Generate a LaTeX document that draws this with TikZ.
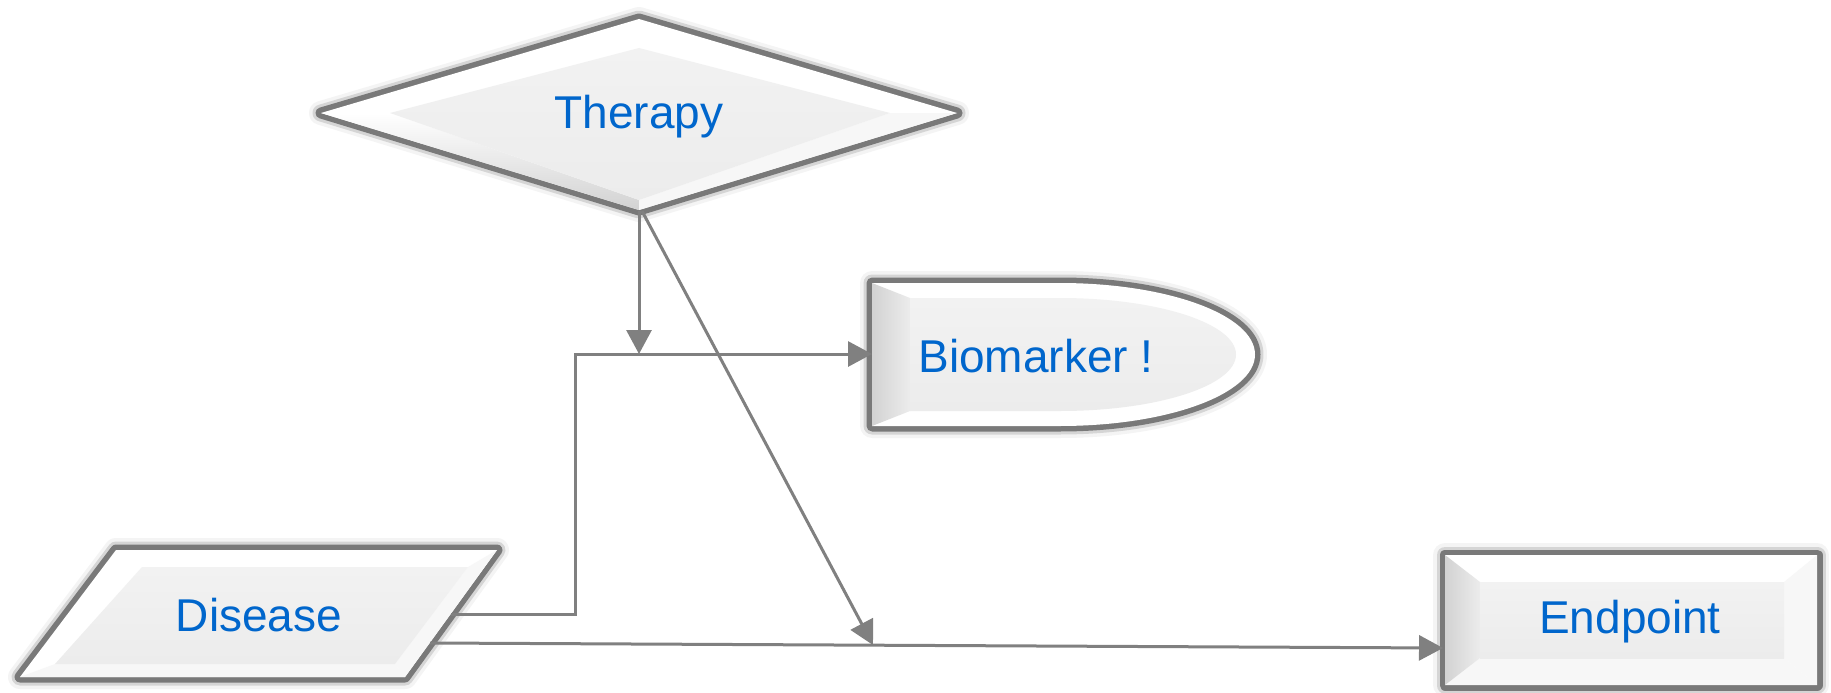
\documentclass[tikz,border=0pt]{standalone}
\usepackage{fontspec}
\setmainfont{Liberation Sans}
\usetikzlibrary{arrows.meta}
\definecolor{txt}{RGB}{0,102,204}
\definecolor{conn}{RGB}{128,128,128}
\definecolor{shd}{RGB}{105,105,105}
\definecolor{face}{RGB}{236,236,236}
\definecolor{facetop}{RGB}{242,242,242}
\definecolor{darkfacet}{RGB}{210,210,210}
\definecolor{lightfacet}{RGB}{247,247,247}
\tikzset{
  lbl/.style={text=txt, font=\fontsize{46}{55}\selectfont, inner sep=0pt},
  conline/.style={draw=conn, line width=3pt},
  arr/.style={conline, -{Triangle[length=24pt,width=25pt]}},
  shA/.style={draw=shd, line width=24pt, opacity=0.07, line join=round},
  shB/.style={draw=shd, line width=17pt, opacity=0.22, line join=round},
  shC/.style={draw=shd, line width=11pt, opacity=0.85, line join=round},
}
\newcommand\bevelshadow[1]{\draw[shA] #1; \draw[shB] #1; \draw[shC] #1;}
\begin{document}
\begin{tikzpicture}[x=1pt,y=-1pt]
\useasboundingbox (0,0) rectangle (1831,693);
\fill[white] (0,0) rectangle (1831,693);

% ---------- Therapy (diamond)
\def\therapyPath{(321,113) -- (639,19) -- (957,113) -- (639,210) -- cycle}
\bevelshadow{\therapyPath}
\fill[white] \therapyPath;
\shade[top color=white, bottom color=darkfacet] (321,113) -- (390,113) -- (639,200) -- (639,210) -- cycle;
\fill[lightfacet] (957,113) -- (890,113) -- (639,200) -- (639,210) -- cycle;
\shade[top color=facetop, bottom color=face] (390,113) -- (639,48) -- (890,113) -- (639,200) -- cycle;
\node[lbl] (therapy) at (639,117) {Therapy};

% ---------- Biomarker (delay shape)
\def\bioPath{(872,283) -- (1060,283) arc[start angle=90, end angle=-90, x radius=195pt, y radius=71.5pt] -- (872,426) -- cycle}
\bevelshadow{\bioPath}
\fill[white] \bioPath;
\shade[left color=darkfacet, right color=face] (872,283) -- (910,298) -- (910,411) -- (872,426) -- cycle;
\shade[top color=facetop, bottom color=face] (910,298) -- (1060,298) arc[start angle=90, end angle=-90, x radius=176pt, y radius=56.5pt] -- (910,411) -- cycle;
\node[lbl] (biomarker) at (1036,356) {Biomarker !};

% ---------- Disease (parallelogram)
\def\disPath{(116,550) -- (497,550) -- (405,677) -- (20,677) -- cycle}
\bevelshadow{\disPath}
\fill[white] \disPath;
\fill[lightfacet] (20,677) -- (55,664) -- (395,664) -- (405,677) -- cycle;
\fill[lightfacet] (497,550) -- (468,567) -- (395,664) -- (405,677) -- cycle;
\shade[top color=facetop, bottom color=face] (142,567) -- (468,567) -- (395,664) -- (55,664) -- cycle;
\node[lbl] (disease) at (259,615) {Disease};

% ---------- Endpoint (rectangle)
\def\endPath{(1445,555) -- (1817,555) -- (1817,685) -- (1445,685) -- cycle}
\bevelshadow{\endPath}
\fill[white] \endPath;
\fill[lightfacet] (1445,685) -- (1480,658) -- (1784,658) -- (1817,685) -- cycle;
\fill[lightfacet] (1817,555) -- (1784,582) -- (1784,658) -- (1817,685) -- cycle;
\shade[left color=darkfacet, right color=face] (1445,555) -- (1480,582) -- (1480,658) -- (1445,685) -- cycle;
\shade[top color=facetop, bottom color=face] (1480,582) rectangle (1784,658);
\node[lbl] (endpoint) at (1630,622) {Endpoint};

% ---------- connector anchors
\coordinate (Ts1) at (639,211);
\coordinate (Ts2) at (642,211);
\coordinate (Jbio) at (639,354);
\coordinate (Bw) at (872,354);
\coordinate (De1) at (451,614);
\coordinate (Dcorner) at (575,354);
\coordinate (De2) at (430,643);
\coordinate (Ew) at (1443,648);
\coordinate (Jend) at (873,645);

% ---------- connectors
\draw[arr] (De1) -| (Dcorner) -- (Bw);
\draw[arr] (De2) -- (Ew);
\draw[arr] (Ts1) -- (Jbio);
\draw[arr] (Ts2) -- (Jend);
\end{tikzpicture}
\end{document}
